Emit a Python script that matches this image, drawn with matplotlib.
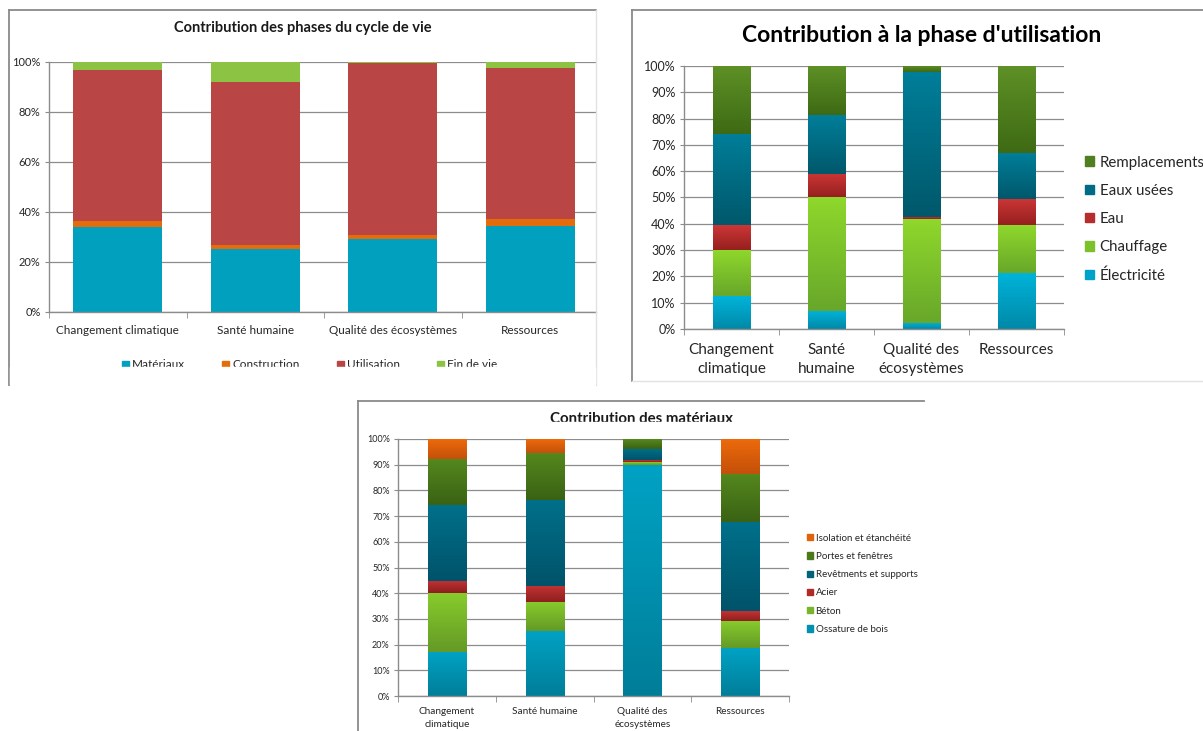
import numpy as np
import matplotlib
matplotlib.use('Agg')
import matplotlib.pyplot as plt
from matplotlib.patches import Patch, Rectangle
from matplotlib.lines import Line2D
from matplotlib.ticker import PercentFormatter, FixedLocator

plt.rcParams['font.family'] = ['Lato', 'DejaVu Sans']

W, H = 1203, 731

# categories d'impact
cats1 = ['Changement climatique', 'Santé humaine', 'Qualité des écosystèmes', 'Ressources']
cats2 = ['Changement\nclimatique', 'Santé\nhumaine', 'Qualité des\nécosystèmes', 'Ressources']
cats3 = ['Changement\nclimatique', 'Santé humaine', 'Qualité des\nécosystèmes', 'Ressources']

# phases du cycle de vie (%)
materiaux = [33.8, 25.1, 29.1, 34.4]
construction = [2.5, 1.6, 1.8, 2.6]
utilisation = [60.5, 65.2, 68.7, 60.5]
fin_de_vie = [3.2, 8.1, 0.4, 2.5]

# phase d'utilisation (%)
electricite = [12.5, 6.9, 2.3, 21.3]
chauffage = [17.7, 43.4, 39.6, 18.1]
eau = [9.2, 8.8, 0.8, 10.0]
eaux_usees = [34.7, 22.2, 55.0, 17.4]
remplacements = [25.9, 18.7, 2.3, 33.2]

# materiaux (%)
ossature = [17.1, 25.4, 90.0, 18.5]
beton = [23.0, 11.3, 1.1, 10.8]
acier = [4.8, 6.0, 0.7, 3.6]
revetements = [29.3, 33.5, 4.3, 34.7]
portes = [18.2, 18.5, 3.8, 18.9]
isolation = [7.6, 5.3, 0.1, 13.5]


def px_axes(fig, x0, y0, x1, y1):
    return fig.add_axes([x0 / W, 1 - y1 / H, (x1 - x0) / W, (y1 - y0) / H])


def style_axes(ax, step, tick_fs, grid_c='#8c8c8c'):
    ax.set_ylim(0, 100)
    ax.yaxis.set_major_locator(FixedLocator(np.arange(0, 101, step)))
    ax.yaxis.set_major_formatter(PercentFormatter(decimals=0))
    ax.set_xticks(range(4))
    ax.set_xticks(np.arange(-0.5, 4, 1), minor=True)
    ax.tick_params(axis='x', which='major', length=0, pad=6)
    ax.tick_params(axis='x', which='minor', length=4, color='#8c8c8c', direction='out')
    ax.tick_params(axis='y', length=3, color='#8c8c8c', labelsize=tick_fs, labelcolor='#262626', pad=3)
    for s in ['top', 'right']:
        ax.spines[s].set_visible(False)
    for s in ['left', 'bottom']:
        ax.spines[s].set_color('#8c8c8c')
        ax.spines[s].set_linewidth(1.0)
    ax.grid(axis='y', color=grid_c, lw=0.9)
    ax.set_axisbelow(True)


def gradient_fill(ax, bars, top, bottom):
    top = np.array(matplotlib.colors.to_rgb(top))
    bottom = np.array(matplotlib.colors.to_rgb(bottom))
    t = np.linspace(0, 1, 64)[:, None, None]
    img = top * (1 - t) + bottom * t
    for p in bars:
        h = p.get_height()
        if h <= 0:
            continue
        x0, y0 = p.get_xy()
        im = ax.imshow(img, extent=[x0, x0 + p.get_width(), y0, y0 + h], origin='upper',
                       aspect='auto', interpolation='bilinear', zorder=2.5)
        im.set_clip_path(p)


def stacked(ax, series, colors, width, grad=None):
    x = np.arange(4)
    base = np.zeros(4)
    for i, (vals, c) in enumerate(zip(series, colors)):
        bars = ax.bar(x, vals, width, bottom=base, color=c, lw=0, zorder=2)
        if grad is not None:
            gradient_fill(ax, bars, grad[i][0], grad[i][1])
        base = base + np.array(vals)


fig = plt.figure(figsize=(W / 100, H / 100), dpi=100)

# --- cadres des trois graphiques ---
def frame(x0, y0, x1, y1, faint=()):
    strong = dict(color='#8a8a8a', lw=1.3)
    light = dict(color='#e2e2e2', lw=1.0)
    segs = {'left': ([x0, x0], [y0, y1]), 'top': ([x0, x1], [y0, y0]),
            'right': ([x1, x1], [y0, y1]), 'bottom': ([x0, x1], [y1, y1])}
    for k, (xs, ys) in segs.items():
        if k in ('left', 'top'):
            kw = strong
        elif k in faint:
            kw = light
        else:
            continue
        fig.add_artist(Line2D([v / W for v in xs], [1 - v / H for v in ys], **kw))

frame(9, 10, 596, 385, faint=('right',))
frame(632, 10, 1203, 381, faint=('bottom',))
frame(358, 401, 924, 731)

# --- 1 : phases du cycle de vie ---
ax1 = px_axes(fig, 49, 62, 596, 312)
c1 = ['#00a0be', '#e46c0a', '#b94544', '#8dc342']
stacked(ax1, [materiaux, construction, utilisation, fin_de_vie], c1, 0.65)
style_axes(ax1, 20, 8)
ax1.set_xlim(-0.5, -0.5 + (596 - 49) / 137.5)
ax1.set_xticklabels(cats1, fontsize=8.5, color='#262626')
ax1.tick_params(axis='x', which='major', pad=9)
fig.text(303 / W, 1 - 28 / H, 'Contribution des phases du cycle de vie', ha='center', va='center',
         fontsize=10.5, fontweight='bold', color='#1a1a1a')
h1 = [Patch(color=c) for c in c1]
fig.legend(h1, ['Matériaux', 'Construction', 'Utilisation', 'Fin de vie'], ncol=4,
           loc='center left', bbox_to_anchor=(111 / W, 1 - 365 / H), frameon=False,
           fontsize=8.5, handlelength=0.6, handleheight=0.6, handletextpad=0.3,
           columnspacing=3.1, labelcolor='#262626')
# bas de la legende coupe par le cadrage
fig.add_artist(Rectangle((10 / W, 1 - 384 / H), 585 / W, 17.5 / H, transform=fig.transFigure,
                         color='white', zorder=10))

# --- 2 : phase d'utilisation ---
ax2 = px_axes(fig, 684, 66, 1064, 329)
c2 = ['#00a3c8', '#7cc02c', '#b52d2d', '#006b84', '#4f7f1e']
g2 = [('#00b4da', '#0089a8'), ('#8fd82c', '#68a72a'), ('#cc3636', '#96201f'),
      ('#007e99', '#00586b'), ('#5e9126', '#3e6a14')]
stacked(ax2, [electricite, chauffage, eau, eaux_usees, remplacements], c2, 0.39, grad=g2)
style_axes(ax2, 10, 9)
ax2.set_xlim(-0.5, 3.5)
ax2.set_xticklabels(cats2, fontsize=11, color='#262626', linespacing=1.5)
ax2.tick_params(axis='x', which='major', pad=10)
fig.text(922 / W, 1 - 36 / H, "Contribution à la phase d'utilisation", ha='center', va='center',
         fontsize=16.5, fontweight='bold', color='#000000')
n2 = ['Électricité', 'Chauffage', 'Eau', 'Eaux usées', 'Remplacements']
h2 = [Patch(color=c) for c in c2]
fig.legend(h2[::-1], n2[::-1], loc='upper left', bbox_to_anchor=(1071 / W, 1 - 142 / H),
           frameon=False, fontsize=10.8, handlelength=0.6, handleheight=0.6, handletextpad=0.4,
           labelspacing=0.95, labelcolor='#262626')

# --- 3 : materiaux ---
ax3 = px_axes(fig, 398, 439, 789, 696)
c3 = ['#0091b0', '#79b52a', '#b02a2a', '#006378', '#4a7a1a', '#e0620a']
g3 = [('#00a2c4', '#007e99'), ('#88cc2c', '#649a26'), ('#c23232', '#8e1f1f'),
      ('#00708a', '#00536a'), ('#55881e', '#3a6214'), ('#ec6a0a', '#c4500a')]
stacked(ax3, [ossature, beton, acier, revetements, portes, isolation], c3, 0.39, grad=g3)
style_axes(ax3, 10, 6.5)
ax3.set_xlim(-0.5, 3.5)
ax3.set_xticklabels(cats3, fontsize=7.2, color='#262626', linespacing=1.55)
ax3.tick_params(axis='x', which='major', pad=8)
fig.text(642 / W, 1 - 419 / H, 'Contribution des matériaux', ha='center', va='center',
         fontsize=10.8, fontweight='bold', color='#1a1a1a')
fig.add_artist(Rectangle((520 / W, 1 - 436 / H), 250 / W, 14.5 / H, transform=fig.transFigure,
                         color='white', zorder=10))
n3 = ['Ossature de bois', 'Béton', 'Acier', 'Revêtments et supports', 'Portes et fenêtres',
      'Isolation et étanchéité']
h3 = [Patch(color=c) for c in c3]
fig.legend(h3[::-1], n3[::-1], loc='upper left', bbox_to_anchor=(798 / W, 1 - 525 / H),
           frameon=False, fontsize=7, handlelength=0.6, handleheight=0.6, handletextpad=0.3,
           labelspacing=0.95, labelcolor='#262626')

fig.savefig('out.png', dpi=100)
